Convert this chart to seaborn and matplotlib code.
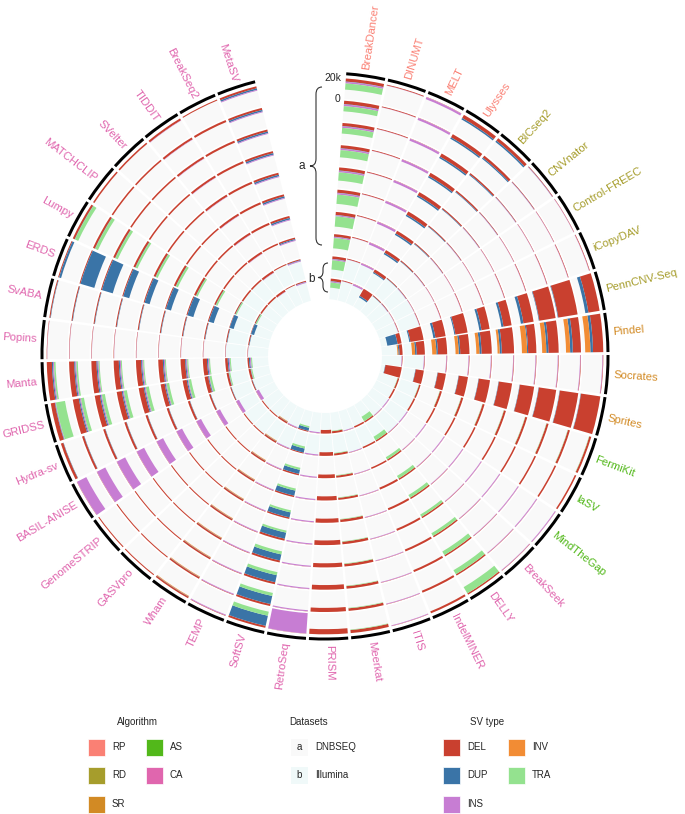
import numpy as np
import pandas as pd
import matplotlib
matplotlib.use('Agg')
import matplotlib.pyplot as plt
import seaborn as sns
from matplotlib.path import Path
from matplotlib.patches import PathPatch, Rectangle

# tools around the circle, clockwise from the top
tools = ['BreakDancer', 'DINUMT', 'MELT', 'Ulysses',
         'BICseq2', 'CNVnator', 'Control-FREEC', 'iCopyDAV', 'PennCNV-Seq',
         'Pindel', 'Socrates', 'Sprites',
         'FermiKit', 'laSV', 'MindTheGap',
         'BreakSeek', 'DELLY', 'IndelMINER', 'ITIS', 'Meerkat', 'PRISM', 'RetroSeq',
         'SoftSV', 'TEMP', 'Wham', 'GASVpro', 'GenomeSTRIP', 'BASIL-ANISE', 'Hydra-sv',
         'GRIDSS', 'Manta', 'Popins', 'SvABA', 'ERDS', 'Lumpy', 'MATCHCLIP', 'SVelter',
         'TIDDIT', 'BreakSeq2', 'MetaSV']
algorithm = ['RP', 'RP', 'RP', 'RP',
             'RD', 'RD', 'RD', 'RD', 'RD',
             'SR', 'SR', 'SR',
             'AS', 'AS', 'AS',
             'CA', 'CA', 'CA', 'CA', 'CA', 'CA', 'CA', 'CA', 'CA', 'CA', 'CA', 'CA', 'CA',
             'CA', 'CA', 'CA', 'CA', 'CA', 'CA', 'CA', 'CA', 'CA', 'CA', 'CA', 'CA']

# rings from outside to inside: 8 DNBSEQ (a), 2 Illumina (b); values in thousands
datasets = ['a', 'a', 'a', 'a', 'a', 'a', 'a', 'a', 'b', 'b']

DEL = {
    'BreakDancer': [3, 3.3, 3, 3, 3, 3, 3, 2.5, 2.5, 2.5],
    'DINUMT': [0.8, 0.8, 0.8, 0.8, 0.8, 0.8, 0.8, 0.8, 0.8, 0.8],
    'MELT': [0.3, 0.3, 0.3, 0.3, 0.3, 0.3, 0.3, 0.3, 0.3, 0.3],
    'Ulysses': [3.5, 3.5, 3.5, 3.5, 3.5, 3.5, 3, 3, 3, 8],
    'BICseq2': [3, 2.5, 1.5, 1.5, 1.2, 1, 1, 1, 0.8, 0.8],
    'CNVnator': [0.6, 0.6, 0.6, 0.6, 0.6, 0.6, 0.6, 0.6, 0.6, 0.6],
    'Control-FREEC': [0.4, 0.4, 0.4, 0.4, 0.4, 0.4, 0.4, 0.4, 0.4, 0.4],
    'iCopyDAV': [0.6, 0.6, 0.6, 0.6, 0.6, 0.6, 0.6, 0.6, 0.6, 0.6],
    'PennCNV-Seq': [11, 19, 16, 10, 8, 8, 12, 10, 13, 4],
    'Pindel': [10, 8, 10, 8, 12, 10, 9, 9, 8, 3],
    'Socrates': [0.5, 0.5, 0.5, 0.5, 0.5, 0.5, 0.5, 0.5, 0.5, 0.5],
    'Sprites': [19, 18, 17, 14, 13, 11, 9, 8, 8, 16],
    'FermiKit': [2, 2, 2, 2, 2, 2, 2, 2, 1.5, 1.5],
    'laSV': [1.5, 1.5, 1.5, 1.5, 1.5, 1.5, 1.5, 1.5, 1.5, 1.5],
    'MindTheGap': [0.2, 0.2, 0.2, 0.2, 0.2, 0.2, 0.2, 0.2, 0.2, 0.2],
    'BreakSeek': [0.4, 0.4, 0.4, 0.4, 0.4, 0.4, 0.4, 0.4, 0.4, 0.4],
    'DELLY': [1.5, 1.5, 1.5, 1.5, 1.5, 1.5, 1.5, 1.5, 1.5, 1.5],
    'IndelMINER': [2, 2, 2, 2, 2, 2, 2, 1.5, 1.5, 1.5],
    'ITIS': [0.3, 0.3, 0.3, 0.3, 0.3, 0.3, 0.3, 0.3, 0.3, 0.3],
    'Meerkat': [3, 2.5, 2.5, 2.5, 2.5, 2.5, 2, 2, 2, 2],
    'PRISM': [5, 4, 4.5, 4, 4.5, 4, 4, 3.5, 3.5, 3.5],
    'RetroSeq': [0.2, 0.2, 0.2, 0.2, 0.2, 0.2, 0.2, 0.2, 0.2, 0.2],
    'SoftSV': [2, 2, 2, 2, 2, 1.5, 1.5, 1.5, 1, 1],
    'TEMP': [0.5, 0.5, 0.5, 0.5, 0.5, 0.5, 0.5, 0.5, 0.5, 0.5],
    'Wham': [1.5, 1.5, 1.5, 1.5, 1.5, 1.5, 1.5, 1.5, 1.5, 1.5],
    'GASVpro': [1, 1, 1, 1, 1, 1, 1, 1, 1, 1],
    'GenomeSTRIP': [1, 1, 1, 1, 1, 1, 1, 1, 1, 1],
    'BASIL-ANISE': [0.3, 0.3, 0.3, 0.3, 0.3, 0.3, 0.3, 0.3, 0.3, 0.3],
    'Hydra-sv': [2.5, 2, 2, 2, 2, 2, 2, 1.5, 1, 1],
    'GRIDSS': [4, 6, 5, 5, 5, 4, 4, 3.5, 2, 2],
    'Manta': [5, 5, 5, 5, 5, 4.5, 4.5, 4, 2.5, 1.5],
    'Popins': [0.4, 0.4, 0.4, 0.4, 0.4, 0.4, 0.4, 0.4, 0.4, 0.4],
    'SvABA': [1, 1, 1, 1, 1, 1, 1, 1, 1, 1],
    'ERDS': [1, 1, 1, 1, 1, 1, 1, 1, 0.5, 0.5],
    'Lumpy': [2, 2, 2, 2, 2, 2, 2, 1.5, 1, 1],
    'MATCHCLIP': [1.5, 1.5, 1.5, 1.5, 1.5, 1.5, 1.5, 1.5, 1.5, 1.5],
    'SVelter': [1.5, 1.5, 1.5, 1.5, 1.5, 1.5, 1.5, 1.5, 1.5, 1.5],
    'TIDDIT': [2, 2, 2, 2, 2, 2, 2, 2, 2, 2],
    'BreakSeq2': [1, 2, 2, 2, 2, 2, 2, 1.5, 1, 0.8],
    'MetaSV': [2, 2, 2, 2, 2, 2, 2, 1.5, 1, 1],
}
DUP = {
    'BreakDancer': [0.3, 0.3, 0.3, 0.3, 0.3, 0.3, 0.3, 0.3, 0.3, 0.3],
    'Ulysses': [1.5, 1.5, 1.5, 1.5, 1.5, 1.5, 1.5, 1.5, 1, 1.5],
    'BICseq2': [1.5, 1.2, 0.8, 0.6, 0.5, 0.5, 0.5, 0.4, 0.3, 0.3],
    'CNVnator': [0.2, 0.2, 0.2, 0.2, 0.2, 0.2, 0.2, 0.2, 0.2, 0.2],
    'PennCNV-Seq': [3, 0.5, 0.5, 2.5, 2, 2, 1, 2, 1, 10],
    'Pindel': [2.5, 2.5, 2, 1, 2, 2, 1.5, 1.5, 1.5, 1],
    'Sprites': [0.3, 0.3, 0.3, 0.3, 0.3, 0.3, 0.3, 0.3, 0.3, 0.3],
    'SoftSV': [10, 8, 7, 6, 6, 5, 5, 4, 4, 3],
    'Wham': [0.3, 0.3, 0.3, 0.3, 0.3, 0.3, 0.3, 0.3, 0.3, 0.3],
    'Hydra-sv': [0.3, 0.3, 0.3, 0.3, 0.3, 0.3, 0.3, 0.3, 0.3, 0.3],
    'GRIDSS': [0.5, 1, 1, 1, 1, 1, 1, 0.8, 0.3, 0.3],
    'Manta': [1, 1, 1, 1, 1, 1, 1, 1, 1, 1],
    'SvABA': [0.4, 0.4, 0.4, 0.4, 0.4, 0.4, 0.4, 0.4, 0.4, 0.4],
    'ERDS': [2, 14, 11, 6, 5, 5, 6, 5, 4, 3],
    'Lumpy': [0.3, 0.3, 0.3, 0.3, 0.3, 0.3, 0.3, 0.3, 0.3, 0.3],
    'MetaSV': [1.5, 1.5, 1.5, 1.5, 1.5, 1.5, 1.5, 1, 0.5, 0.3],
}
INS = {
    'BreakDancer': [1.5, 1.7, 1.5, 1.5, 1.5, 1.5, 1, 1, 1, 1],
    'DINUMT': [0.2, 0.2, 0.2, 0.2, 0.2, 0.2, 0.2, 0.2, 0.2, 0.2],
    'MELT': [2, 2, 2, 2, 2, 2, 2, 2, 1.5, 1.5],
    'CNVnator': [0.3, 0.3, 0.3, 0.3, 0.3, 0.3, 0.3, 0.3, 0.3, 0.3],
    'Control-FREEC': [0.3, 0.3, 0.3, 0.3, 0.3, 0.3, 0.3, 0.3, 0.3, 0.3],
    'iCopyDAV': [0.3, 0.3, 0.3, 0.3, 0.3, 0.3, 0.3, 0.3, 0.3, 0.3],
    'Socrates': [0.5, 0.5, 0.5, 0.5, 0.5, 0.5, 0.5, 0.5, 0.5, 0.5],
    'MindTheGap': [0.8, 0.8, 0.8, 0.8, 0.8, 0.8, 0.8, 0.8, 0.8, 0.8],
    'BreakSeek': [0.5, 0.5, 0.5, 0.5, 0.5, 0.5, 0.5, 0.5, 0.5, 0.5],
    'ITIS': [0.6, 0.6, 0.6, 0.6, 0.6, 0.6, 0.6, 0.6, 0.6, 0.6],
    'RetroSeq': [20, 1, 1, 1, 1, 1, 1, 1, 1, 1],
    'TEMP': [0.8, 0.8, 0.8, 0.8, 0.8, 0.8, 0.8, 0.8, 0.8, 0.8],
    'BASIL-ANISE': [10, 9, 9, 8, 7, 6, 5, 4, 3, 3],
    'GRIDSS': [0.5, 1, 1, 1, 1, 0.8, 0.8, 0.5, 0.3, 0.3],
    'Manta': [1, 1, 1, 1, 1, 1, 1, 1, 1, 1],
    'Popins': [0.2, 0.2, 0.2, 0.2, 0.2, 0.2, 0.2, 0.2, 0.2, 0.2],
    'TIDDIT': [0.3, 0.3, 0.3, 0.3, 0.3, 0.3, 0.3, 0.3, 0.3, 0.3],
    'MetaSV': [0.8, 0.8, 0.8, 0.8, 0.8, 0.8, 0.8, 0.8, 0.8, 0.8],
}
INV = {
    'Pindel': [5, 4, 4, 5, 2, 3, 3, 4, 3, 1],
    'Wham': [0.6, 0.6, 0.6, 0.6, 0.6, 0.6, 0.6, 0.6, 0.6, 0.6],
}
TRA = {
    'BreakDancer': [6, 5, 5.5, 7, 8, 9, 10, 10, 9, 5],
    'FermiKit': [0.3, 0.3, 0.3, 0.3, 0.3, 0.3, 0.3, 0.3, 0.3, 0.3],
    'DELLY': [7, 4.5, 4, 3, 2.5, 3, 3, 2.5, 4, 5],
    'Meerkat': [0.5, 0.5, 0.5, 0.5, 0.5, 0.5, 0.5, 0.5, 0.5, 0.5],
    'SoftSV': [4, 3, 3, 3, 2, 2, 2, 2, 2, 1.5],
    'GRIDSS': [9, 3, 3, 3, 3, 2.5, 2.5, 2, 1, 1],
    'Manta': [1.5, 1.5, 1, 1, 1, 1, 1, 1, 1, 1],
    'Lumpy': [3.5, 3, 2.5, 2, 2, 2, 1.5, 1.5, 1, 1],
}

sv_types = ['DEL', 'DUP', 'INS', 'INV', 'TRA']
sv_data = {'DEL': DEL, 'DUP': DUP, 'INS': INS, 'INV': INV, 'TRA': TRA}
sv_pal = dict(zip(sv_types, sns.color_palette(['#C9402F', '#3A74A7', '#C77DD3', '#F28C34', '#94E28F'])))
alg_names = ['RP', 'RD', 'SR', 'AS', 'CA']
alg_pal = dict(zip(alg_names, sns.color_palette(['#FA8074', '#A69D2C', '#D28A24', '#52B81A', '#E066AE'])))
ds_bg = {'a': '#F9F9F9', 'b': '#F0F9F9'}

sns.set_theme(style='white')
plt.rcParams['font.family'] = ['Liberation Sans', 'DejaVu Sans']

W, H = 685, 814
fig = plt.figure(figsize=(W / 100, H / 100), dpi=100)
over = fig.add_axes([0, 0, 1, 1])
over.set_xlim(0, W)
over.set_ylim(H, 0)
over.axis('off')

cx, cy, R = 325, 356, 300
ax = fig.add_axes([(cx - R) / W, (H - cy - R) / H, 2 * R / W, 2 * R / H], projection='polar')
ax.set_theta_zero_location('N')
ax.set_theta_direction(-1)
ax.set_ylim(0, R)
ax.axis('off')

n = len(tools)
start, step, gap = 4.0, 8.55, 0.6
theta = np.deg2rad(start + step * (np.arange(n) + 0.5))
width = np.deg2rad(step - gap)

r_hole, pitch, band = 57, 22.3, 20.6
scale = band / 20.0  # px per 1k
n_ring = len(datasets)

for k in range(n_ring):
    r_in = r_hole + (n_ring - 1 - k) * pitch
    r_out = r_in + band
    ax.bar(theta, band, width=width, bottom=r_in, color=ds_bg[datasets[k]], edgecolor='none')
    cum = np.zeros(n)
    for sv in sv_types:
        vals = np.array([sv_data[sv].get(t, [0] * n_ring)[k] for t in tools]) * scale
        vals = np.minimum(vals, band - cum)
        ax.bar(theta, vals, width=width, bottom=r_out - cum - vals,
               color=sv_pal[sv], edgecolor='none')
        cum += vals

# outer black arcs
ax.bar(theta, 3, width=width, bottom=281.5, color='black', edgecolor='none')

# tool labels
for i, t in enumerate(tools):
    deg = start + step * (i + 0.5)
    if deg < 180:
        rot, ha = 90 - deg, 'left'
    else:
        rot, ha = 270 - deg, 'right'
    ax.text(np.deg2rad(deg), 289, t, rotation=rot, rotation_mode='anchor',
            ha=ha, va='center', fontsize=8.1, color=alg_pal[algorithm[i]])

# scale labels
ring1_out = r_hole + (n_ring - 1) * pitch + band
ax.text(np.deg2rad(start - 0.6), ring1_out, '20k', ha='right', va='center', fontsize=7.5)
ax.text(np.deg2rad(start - 0.6), ring1_out - band, '0', ha='right', va='center', fontsize=7.5)


def brace(x_tip, x_end, y0, y1):
    ym = (y0 + y1) / 2
    xm = (x_tip + x_end) / 2
    d = (x_end - x_tip) * 0.6
    verts = [(x_end, y0), (xm, y0), (xm, y0 + d), (xm, ym - d), (xm, ym), (x_tip, ym),
             (xm, ym), (xm, ym + d), (xm, y1 - d), (xm, y1), (x_end, y1)]
    codes = [Path.MOVETO, Path.CURVE3, Path.CURVE3, Path.LINETO, Path.CURVE3, Path.CURVE3,
             Path.CURVE3, Path.CURVE3, Path.LINETO, Path.CURVE3, Path.CURVE3]
    over.add_patch(PathPatch(Path(verts, codes), fill=False, lw=0.8, color='#333333'))


brace(310, 322, 87, 245)
over.text(302, 166, 'a', ha='center', va='center', fontsize=8.5)
brace(318, 328, 263, 292)
over.text(312, 279, 'b', ha='center', va='center', fontsize=8.5)

# legends
sq = 17
rows = [747, 775, 804]
over.text(137, 722, 'Algorithm', ha='center', va='center', fontsize=7)
alg_pos = {'RP': (88, rows[0]), 'RD': (88, rows[1]), 'SR': (88, rows[2]),
           'AS': (146, rows[0]), 'CA': (146, rows[1])}
for a, (x, y) in alg_pos.items():
    over.add_patch(Rectangle((x, y - sq / 2), sq, sq, facecolor=alg_pal[a], edgecolor='white', lw=0.5))
    over.text(x + 24, y, a, ha='left', va='center', fontsize=7)

over.text(309, 722, 'Datasets', ha='center', va='center', fontsize=7)
for (lab, name), y in zip([('a', 'DNBSEQ'), ('b', 'Illumina')], rows):
    over.add_patch(Rectangle((291, y - sq / 2), sq, sq, facecolor=ds_bg[lab], edgecolor='none'))
    over.text(299.5, y, lab, ha='center', va='center', fontsize=7)
    over.text(315, y, name, ha='left', va='center', fontsize=7)

over.text(487, 722, 'SV type', ha='center', va='center', fontsize=7)
sv_pos = {'DEL': (443, rows[0]), 'DUP': (443, rows[1]), 'INS': (443, rows[2]),
          'INV': (508, rows[0]), 'TRA': (508, rows[1])}
for s, (x, y) in sv_pos.items():
    over.add_patch(Rectangle((x, y - sq / 2), sq, sq, facecolor=sv_pal[s], edgecolor='white', lw=0.5))
    over.text(x + 24, y, s, ha='left', va='center', fontsize=7)

fig.savefig('out.png', dpi=100, facecolor='white')
